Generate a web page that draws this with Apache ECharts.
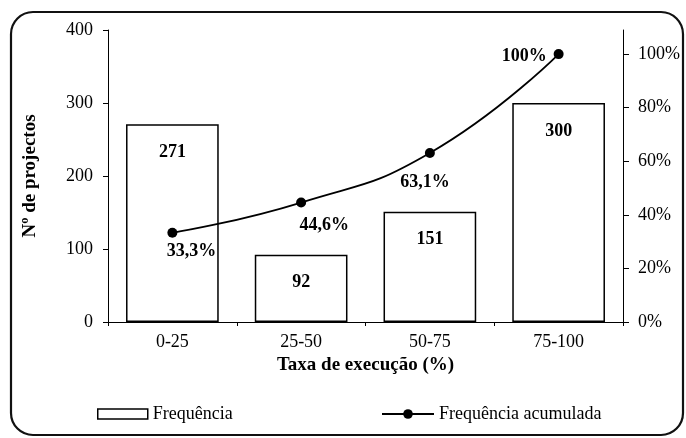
<!DOCTYPE html>
<html>
<head>
<meta charset="utf-8">
<script src="https://cdn.jsdelivr.net/npm/echarts@6/dist/echarts.min.js"></script>
<style>
  html, body { margin: 0; padding: 0; background: #fff; }
  #chart { width: 686px; height: 438px; }
</style>
</head>
<body>
<div id="chart"></div>
<script>
// data
const categories = ['0-25', '25-50', '50-75', '75-100'];
const frequencia = [271, 92, 151, 300];
const acumulada = [33.3, 44.6, 63.1, 100];
const acumuladaLabels = ['33,3%', '44,6%', '63,1%', '100%'];
const pctTicks = [0, 20, 40, 60, 80, 100];

const serif = 'Liberation Serif';
const chart = echarts.init(document.getElementById('chart'));

// where each cumulative label sits relative to its point
const labelPlace = [
  { position: 'bottom', offset: [19, 0] },
  { position: 'bottom', offset: [23, 4] },
  { position: 'bottom', offset: [-5, 10] },
  { position: 'left', offset: [-2, 2] }
];

const option = {
  animation: false,
  backgroundColor: '#fff',
  textStyle: { fontFamily: serif, color: '#000' },
  grid: { left: 108, right: 63, top: 30, bottom: 116 },
  graphic: [{
    type: 'rect',
    shape: { x: 11, y: 12, width: 672, height: 423, r: 22 },
    style: { fill: 'none', stroke: '#111', lineWidth: 2.2 },
    silent: true
  }],
  legend: [{
    left: 92, top: 400,
    itemWidth: 50, itemHeight: 10, itemGap: 10,
    textStyle: { fontFamily: serif, fontSize: 18, color: '#000' },
    data: [{ name: 'Frequência', icon: 'rect',
      itemStyle: { color: '#fff', borderColor: '#000', borderWidth: 1.5 } }]
  }, {
    left: 376, top: 400,
    itemWidth: 52, itemHeight: 12, itemGap: 8,
    textStyle: { fontFamily: serif, fontSize: 18, color: '#000' },
    data: [{ name: 'Frequência acumulada' }]
  }],
  xAxis: {
    type: 'category',
    data: categories,
    name: 'Taxa de execução (%)',
    nameLocation: 'middle',
    nameGap: 32,
    nameTextStyle: { fontFamily: serif, fontSize: 19, fontWeight: 'bold', color: '#000' },
    axisLine: { lineStyle: { color: '#000', width: 1 } },
    axisTick: { show: true, length: 4, lineStyle: { color: '#000' } },
    axisLabel: { fontFamily: serif, fontSize: 18, color: '#000', margin: 11 }
  },
  yAxis: [{
    type: 'value',
    min: 0, max: 400, interval: 100,
    name: 'Nº de projectos',
    nameLocation: 'middle',
    nameRotate: 90,
    nameGap: 68,
    nameTextStyle: { fontFamily: serif, fontSize: 19, fontWeight: 'bold', color: '#000' },
    axisLine: { show: true, lineStyle: { color: '#000', width: 1 } },
    axisTick: { show: true, length: 5, lineStyle: { color: '#000' } },
    axisLabel: { fontFamily: serif, fontSize: 18, color: '#000', margin: 15 },
    splitLine: { show: false }
  }, {
    type: 'value',
    min: 0, max: 109,
    position: 'right',
    axisLine: { show: true, lineStyle: { color: '#000', width: 1 } },
    axisTick: { show: true, length: 6, inside: false, customValues: pctTicks, lineStyle: { color: '#000' } },
    axisLabel: {
      fontFamily: serif, fontSize: 18, color: '#000', margin: 15,
      customValues: pctTicks,
      formatter: v => v + '%'
    },
    splitLine: { show: false }
  }],
  series: [{
    name: 'Frequência',
    type: 'bar',
    data: frequencia,
    barWidth: '72%',
    itemStyle: { color: '#fff', borderColor: '#000', borderWidth: 1.5 },
    label: {
      show: true, position: 'insideTop', distance: 19,
      fontFamily: serif, fontSize: 18, fontWeight: 'bold', color: '#000'
    }
  }, {
    name: 'Frequência acumulada',
    type: 'line',
    yAxisIndex: 1,
    smooth: true,
    symbol: 'circle',
    symbolSize: 10,
    lineStyle: { color: '#000', width: 1.8 },
    itemStyle: { color: '#000' },
    data: acumulada.map((v, i) => ({
      value: v,
      label: {
        show: true,
        position: labelPlace[i].position,
        offset: labelPlace[i].offset,
        formatter: acumuladaLabels[i],
        fontFamily: serif, fontSize: 18, fontWeight: 'bold', color: '#000'
      }
    }))
  }]
};

chart.setOption(option);
</script>
</body>
</html>
